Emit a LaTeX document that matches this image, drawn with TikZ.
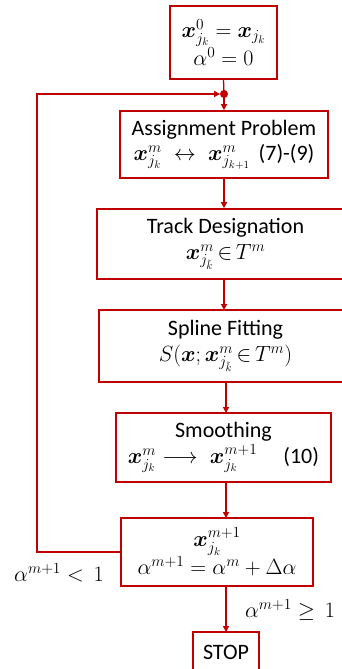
\RequirePackage{fix-cm}
\documentclass[tikz,border=0pt]{standalone}
\usepackage{amsmath,amssymb,bm}
\usepackage[no-math]{fontspec}
\setmainfont{Carlito}
\usetikzlibrary{arrows.meta}
\definecolor{fred}{RGB}{192,0,0}
\newcommand{\xb}{\bm{x}}
\begin{document}
\begin{tikzpicture}[x=1pt,y=-1pt,
  box/.style={draw=fred,line width=1.6pt,fill=white,align=center,inner sep=0pt,
    font=\fontsize{22}{23}\selectfont},
  conn/.style={draw=fred,line width=1.3pt},
  arr/.style={conn,-{Triangle[length=6pt,width=6pt]}},
  lbl/.style={font=\fontsize{22}{23}\selectfont}]
\useasboundingbox (0,0) rectangle (342,669);
\clip (0,0) rectangle (342,669);
\node[box,minimum width=107pt,minimum height=73pt] (b1) at (223.5,42.5)
  {$\xb^{0}_{j_k}=\xb_{j_k}$\\[0pt]$\alpha^{0}=0$};
\node[box,minimum width=208pt,minimum height=67pt] (b2) at (224,144.5)
  {Assignment Problem\\[2pt]$\xb^{m}_{j_k}\;\leftrightarrow\;\xb^{m}_{j_{k+1}}$\ \,(7)-(9)};
\node[box,minimum width=257pt,minimum height=70pt] (b3) at (225.5,244)
  {Track Designation\\[3pt]$\xb^{m}_{j_{\tilde k}}\,{\in}\,T^{m}$};
\node[box,minimum width=253pt,minimum height=72pt] (b4) at (225.5,346)
  {Spline Fitting\\[3pt]$S(\xb;\xb^{m}_{j_{\tilde k}}\,{\in}\,T^{m})$};
\node[box,minimum width=215pt,minimum height=69pt] (b5) at (223.5,447.5)
  {Smoothing\\[3pt]$\xb^{m}_{j_k}\longrightarrow\;\xb^{m+1}_{j_k}$\hspace{26pt}(10)};
\node[box,minimum width=192pt,minimum height=68pt] (b6) at (217,552)
  {$\xb^{m+1}_{j_k}$\\[0pt]$\alpha^{m+1}=\alpha^{m}+\Delta\alpha$};
\node[box,minimum width=66pt,minimum height=40pt] (stop) at (226,652) {STOP};
\coordinate (dot) at (224,94);
\coordinate (corner) at (37,94);
\fill[fred] (dot) circle (4pt);
\draw[conn] (b1.south) -- (dot);
\draw[arr] (dot) -- (dot |- b2.north);
\draw[arr] (b2.south) -- (b2.south |- b3.north);
\draw[arr] (224,279) -- (224,310);
\draw[arr] (226,382) -- (226,413);
\draw[arr] (226,482) -- (226,518);
\draw[arr] (226,586) -- (226,632);
\draw[arr] (b6.west) -| (corner) -- ([xshift=-4pt]dot);
\node[lbl] (l1) at (59,573) {$\alpha^{m+1}<\,1$};
\node[lbl] (l2) at (290,610) {$\alpha^{m+1}\geq\,1$};
\end{tikzpicture}
\end{document}
